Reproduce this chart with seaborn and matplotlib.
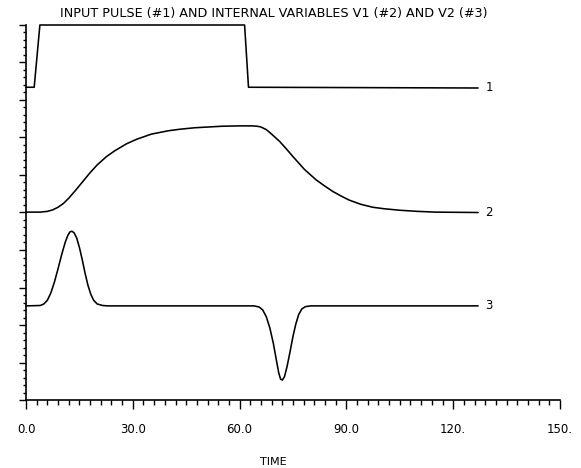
import matplotlib
matplotlib.use("Agg")
import matplotlib.pyplot as plt
from matplotlib.ticker import MultipleLocator, FixedLocator, FixedFormatter
import seaborn as sns
import pandas as pd

# Input pulse (#1)
t1 = [0.0, 2.3, 3.9, 61.4, 62.5, 127.0]
v1 = [8.34, 8.34, 10.0, 10.0, 8.34, 8.32]

# Internal variable V1 (#2)
t2 = [0.0, 4.0, 6.0, 7.5, 9.0, 10.5, 12.0, 14.0, 16.0, 17.9, 20.0, 22.6,
      25.0, 28.2, 31.0, 35.2, 40.0, 43.2, 47.4, 55.0, 60.0, 63.5, 65.0,
      66.0, 67.5, 69.0, 71.2, 73.0, 75.0, 78.2, 81.5, 84.0, 86.2, 88.5,
      90.8, 94.0, 97.4, 100.6, 105.0, 110.0, 115.0, 127.0]
v2 = [5.01, 5.01, 5.03, 5.07, 5.14, 5.24, 5.38, 5.60, 5.83, 6.05, 6.27, 6.49,
      6.65, 6.83, 6.95, 7.09, 7.18, 7.22, 7.26, 7.30, 7.31, 7.31, 7.30,
      7.28, 7.21, 7.09, 6.90, 6.71, 6.49, 6.15, 5.87, 5.70, 5.56, 5.44,
      5.33, 5.22, 5.14, 5.10, 5.06, 5.03, 5.01, 5.00]

# Internal variable V2 (#3)
t3 = [0.0, 4.0, 5.0, 6.0, 7.0, 8.0, 9.0, 10.0, 11.0, 11.7, 12.3, 12.9, 13.5,
      14.2, 15.0, 15.8, 16.6, 17.4, 18.2, 19.0, 20.0, 21.5, 23.0, 64.0,
      65.5, 66.5, 67.5, 68.5, 69.5, 70.3, 71.0, 71.5, 72.0, 72.6, 73.3,
      74.2, 75.0, 75.8, 76.6, 77.5, 78.5, 80.0, 127.0]
v3 = [2.51, 2.52, 2.56, 2.66, 2.86, 3.15, 3.50, 3.87, 4.20, 4.38, 4.48, 4.50,
      4.46, 4.33, 4.07, 3.74, 3.38, 3.06, 2.82, 2.66, 2.56, 2.52, 2.51, 2.51,
      2.48, 2.40, 2.22, 1.92, 1.50, 1.08, 0.72, 0.56, 0.53, 0.62, 0.88,
      1.30, 1.70, 2.03, 2.28, 2.43, 2.49, 2.51, 2.51]

curve_names = ["1", "2", "3"]
x_tick_values = [0, 30, 60, 90, 120, 150]
x_tick_labels = ["0.0", "30.0", "60.0", "90.0", "120.", "150."]

sns.set_theme(style="ticks")
plt.rcParams["font.family"] = ["DejaVu Sans"]

frames = []
for name, t, v in zip(curve_names, [t1, t2, t3], [v1, v2, v3]):
    frames.append(pd.DataFrame({"time": t, "value": v, "curve": name}))
data = pd.concat(frames, ignore_index=True)

fig = plt.figure(figsize=(5.81, 4.68), dpi=100)
ax = fig.add_axes([26 / 581, 68 / 468, 534 / 581, 375 / 468])

sns.lineplot(data=data, x="time", y="value", units="curve", estimator=None,
             sort=False, color="black", linewidth=1.15, ax=ax, legend=False)
for line in ax.lines:
    line.set_clip_on(False)
    line.set_solid_joinstyle("round")

# Curve number at the end of each trace
for name, t, v in zip(curve_names, [t1, t2, t3], [v1, v2, v3]):
    ax.text(t[-1] + 2.0, v[-1], name, ha="left", va="center", fontsize=8.5,
            color="black")

ax.set_xlim(0, 150)
ax.set_ylim(0, 10)
sns.despine(ax=ax)
for side in ["left", "bottom"]:
    ax.spines[side].set_linewidth(1.2)
    ax.spines[side].set_color("black")

ax.xaxis.set_major_locator(FixedLocator(x_tick_values))
ax.xaxis.set_major_formatter(FixedFormatter(x_tick_labels))
ax.xaxis.set_minor_locator(MultipleLocator(3))
ax.yaxis.set_major_locator(MultipleLocator(1))
ax.yaxis.set_minor_locator(MultipleLocator(0.2))
ax.set_yticklabels([])

ax.tick_params(axis="x", which="major", direction="out", length=6.5, width=1.0,
               pad=10, labelsize=8.5, colors="black")
ax.tick_params(axis="x", which="minor", direction="out", length=3.5, width=1.0,
               colors="black")
ax.tick_params(axis="y", which="major", direction="out", length=5, width=1.0,
               colors="black")
ax.tick_params(axis="y", which="minor", direction="out", length=2.5, width=1.0,
               colors="black")

ax.set_xlabel("TIME", fontsize=8, color="black")
ax.set_ylabel("")
ax.xaxis.set_label_coords((273 - 26) / 534, -(462 - 400) / 375)
ax.xaxis.label.set_va("center")

fig.text(274 / 581, 1 - 13 / 468,
         "INPUT PULSE (#1) AND INTERNAL VARIABLES V1 (#2) AND V2 (#3)",
         ha="center", va="center", fontsize=9.2, color="black")

fig.savefig("out.png", dpi=100, facecolor="white")
